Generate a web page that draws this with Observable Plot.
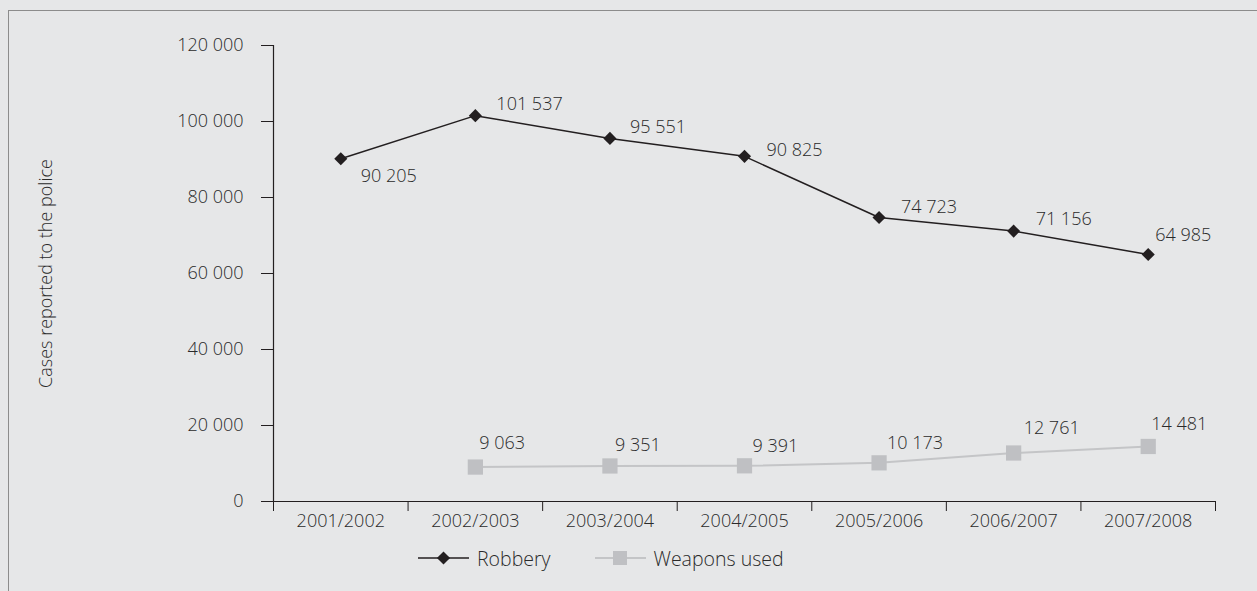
<!DOCTYPE html>
<html>
<head>
<meta charset="utf-8">
<script src="https://cdn.jsdelivr.net/npm/d3@7"></script>
<script src="https://cdn.jsdelivr.net/npm/@observablehq/plot@0.6"></script>
<style>
  html, body { margin: 0; padding: 0; background: #e6e7e8; }
  body { width: 1257px; height: 591px; overflow: hidden; position: relative;
         font-family: "Open Sans", sans-serif; font-weight: 300; color: #2a2a2a; }
  #frame { position: absolute; left: 8px; top: 10px; width: 1400px; height: 800px;
           border: 1.5px solid #8c8c8c; box-sizing: border-box; }
  #chart { position: absolute; left: 0; top: 0; }
  #legend { position: absolute; left: 418px; top: 545px; height: 26px;
            display: flex; align-items: center; font-size: 19.5px; }
  #legend .item { display: flex; align-items: center; }
  #legend svg { display: block; }
</style>
</head>
<body>
<div id="frame"></div>
<div id="chart"></div>
<div id="legend"></div>
<script>
// Reporting periods (financial years)
const periods = ["2001/2002", "2002/2003", "2003/2004", "2004/2005", "2005/2006", "2006/2007", "2007/2008"];
// Robbery cases reported to the police
const robbery = [90205, 101537, 95551, 90825, 74723, 71156, 64985];
// Robberies where weapons were used (no figure for the first period)
const weapons = [null, 9063, 9351, 9391, 10173, 12761, 14481];
// Y axis ticks
const yTicks = [0, 20000, 40000, 60000, 80000, 100000, 120000];

const seriesNames = ["Robbery", "Weapons used"];
const robberyColor = "#231f20";
const weaponsColor = "#bfc0c3";
const weaponsLine = "#c4c5c7";
const textColor = "#2a2a2a";

const fmt = v => d3.format(",")(v).replace(/,/g, " ");

const rob = robbery.map((v, i) => ({i, v}));
const wea = weapons.map((v, i) => ({i, v})).filter(d => d.v != null);

// Per-point label nudges [dx, dy] so labels clear the line
const robNudge = [[20, 18], [21, -11], [20, -11], [22, -6], [22, -10], [22, -12], [7, -19]];
const weaNudge = [null, [4, -24], [5, -21], [8, -20], [8, -20], [10, -25], [3, -22]];

const labelMarks = [];
rob.forEach(d => {
  const [dx, dy] = robNudge[d.i];
  labelMarks.push(Plot.text([d], {x: "i", y: "v", text: d => fmt(d.v), textAnchor: "start", dx, dy, fill: textColor}));
});
wea.forEach(d => {
  const [dx, dy] = weaNudge[d.i];
  labelMarks.push(Plot.text([d], {x: "i", y: "v", text: d => fmt(d.v), textAnchor: "start", dx, dy, fill: textColor}));
});

const boundaries = d3.range(periods.length + 1).map(k => k - 0.5);

const chart = Plot.plot({
  width: 1257,
  height: 545,
  marginLeft: 273,
  marginRight: 42,
  marginTop: 45,
  marginBottom: 44,
  style: {background: "transparent", fontFamily: "'Open Sans', sans-serif", fontSize: "18px", fontWeight: 300, color: textColor},
  x: {type: "linear", domain: [-0.5, periods.length - 0.5]},
  y: {domain: [0, 120000]},
  marks: [
    Plot.axisY({ticks: yTicks, tickSize: 12, tickPadding: 18, tickFormat: fmt, stroke: robberyColor, fill: textColor,
                label: "Cases reported to the police", labelAnchor: "center", labelArrow: "none", labelOffset: 234}),
    Plot.axisX({ticks: boundaries, tickSize: 10, tickFormat: () => "", stroke: robberyColor, label: null}),
    Plot.axisX({ticks: d3.range(periods.length), tickSize: 0, tickPadding: 13, tickFormat: i => periods[i], fill: textColor, label: null}),
    Plot.ruleX([-0.5], {stroke: robberyColor, strokeWidth: 1.2}),
    Plot.ruleY([0], {stroke: robberyColor, strokeWidth: 1.2}),
    Plot.line(wea, {x: "i", y: "v", stroke: weaponsLine, strokeWidth: 2}),
    Plot.dot(wea, {x: "i", y: "v", symbol: "square", r: 8.6, fill: weaponsColor}),
    Plot.line(rob, {x: "i", y: "v", stroke: robberyColor, strokeWidth: 1.5}),
    Plot.dot(rob, {x: "i", y: "v", symbol: "diamond2", r: 5.9, fill: robberyColor}),
    ...labelMarks
  ]
});
document.getElementById("chart").appendChild(chart);

// Legend below the chart
const legend = d3.select("#legend");
function swatch(item, lineColor, lineWidth, drawMarker) {
  const svg = item.append("svg").attr("width", 51).attr("height", 18);
  svg.append("line").attr("x1", 0).attr("x2", 51).attr("y1", 9).attr("y2", 9)
    .attr("stroke", lineColor).attr("stroke-width", lineWidth);
  drawMarker(svg);
}
const it1 = legend.append("div").attr("class", "item");
swatch(it1, robberyColor, 1.5, svg => svg.append("path")
  .attr("d", d3.symbol(d3.symbolDiamond2, 5.9 * 5.9 * Math.PI)())
  .attr("transform", "translate(25.5,9)").attr("fill", robberyColor));
it1.append("span").style("margin-left", "8px").text(seriesNames[0]);

const it2 = legend.append("div").attr("class", "item").style("margin-left", "44px");
swatch(it2, weaponsLine, 2, svg => svg.append("rect")
  .attr("x", 18).attr("y", 2).attr("width", 14).attr("height", 14).attr("fill", weaponsColor));
it2.append("span").style("margin-left", "8px").text(seriesNames[1]);
</script>
</body>
</html>
